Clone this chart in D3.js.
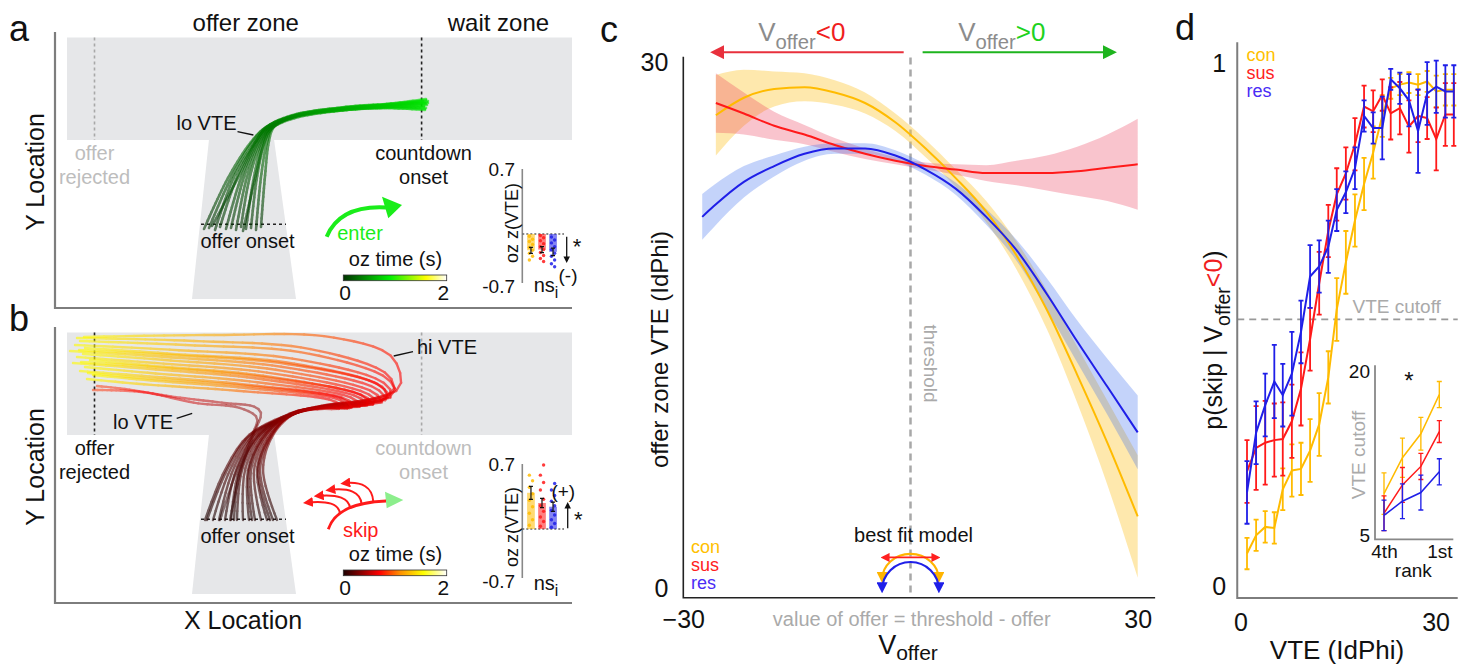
<!DOCTYPE html>
<html>
<head>
<meta charset="utf-8">
<title>offer zone VTE</title>
<script src="https://cdn.jsdelivr.net/npm/d3@7/dist/d3.min.js"></script>
<style>
  body { margin: 0; background: #fff; }
  text { font-family: "Liberation Sans", Arial, Helvetica, sans-serif; }
</style>
</head>
<body>
<svg id="fig" width="1470" height="667"></svg>
<script>
// ---------------- data ----------------
const groups = ['con', 'sus', 'res'];

// panels a/b: example trajectories in maze units [X, Y]
const enterPaths = [
  [[149,79],[173,130],[196,166],[210,180],[236,191],[289,199],[330,203],[370,205]],
  [[154,80],[176,130],[198,167],[211,181],[237,192],[290,200],[331,203],[371,208]],
  [[160,78],[179,131],[200,166],[212,180],[237,191],[290,199],[330,201],[369,201]],
  [[165,81],[182,131],[201,167],[212,181],[238,192],[291,200],[332,203],[372,206]],
  [[171,79],[186,130],[203,167],[213,180],[238,191],[289,198],[331,200],[370,199]],
  [[176,80],[189,131],[204,167],[214,181],[239,192],[290,199],[332,202],[371,204]],
  [[181,78],[192,131],[205,166],[215,180],[239,191],[291,200],[333,203],[373,207]],
  [[186,81],[195,132],[207,167],[216,181],[240,193],[292,201],[332,204],[371,209]],
  [[191,79],[199,131],[208,167],[216,181],[240,192],[291,199],[331,201],[369,202]],
  [[196,80],[202,131],[210,167],[217,180],[241,192],[292,200],[333,202],[372,203]],
  [[201,78],[206,131],[212,166],[218,181],[241,191],[291,198],[332,200],[370,198]],
  [[206,81],[210,132],[214,167],[219,181],[242,192],[293,200],[334,203],[373,205]],
  [[157,82],[184,132],[202,168],[213,182],[238,193],[290,201],[331,204],[368,207]],
  [[188,77],[200,129],[209,165],[216,179],[240,190],[292,198],[333,201],[371,200]]
];
const skipPaths = [
  [[152,83],[172,133],[195,168],[236,188],[272,197],[320,205],[345,216],[337,246],[275,266],[160,268],[29,266]],
  [[158,83],[175,133],[197,168],[236,189],[270,197],[318,203],[340,210],[333,224],[250,250],[130,258],[25,262]],
  [[164,83],[178,133],[199,168],[237,189],[271,198],[316,202],[337,207],[329,220],[240,244],[120,253],[20,258]],
  [[170,83],[181,133],[201,168],[235,188],[270,197],[314,201],[334,205],[326,217],[235,240],[120,249],[30,255]],
  [[176,83],[184,133],[203,168],[236,190],[269,196],[312,200],[331,203],[322,214],[228,236],[110,246],[15,252]],
  [[182,83],[187,133],[205,168],[237,189],[270,196],[310,199],[327,201],[318,211],[222,233],[110,243],[28,249]],
  [[188,83],[190,133],[207,168],[236,188],[269,197],[306,198],[322,200],[313,209],[215,230],[100,240],[22,246]],
  [[194,83],[193,133],[209,168],[237,190],[270,196],[304,197],[318,199],[309,207],[210,227],[100,237],[35,243]],
  [[200,83],[196,133],[211,168],[236,189],[269,196],[300,197],[312,198],[303,206],[205,224],[95,234],[18,240]],
  [[206,83],[199,133],[213,168],[237,188],[268,196],[296,196],[306,197],[297,205],[200,221],[95,230],[30,236]],
  [[212,83],[202,133],[215,168],[238,189],[268,195],[291,195],[300,196],[291,204],[195,218],[90,227],[25,232]],
  [[218,83],[205,133],[217,168],[238,190],[267,195],[286,195],[294,195],[285,203],[190,215],[90,223],[38,228]],
  [[222,83],[208,133],[218,168],[239,189],[266,194],[282,194],[288,195],[279,202],[185,212],[85,219],[32,224]],
  [[150,83],[170,133],[194,168],[235,189],[271,198],[317,204],[339,212],[333,228],[255,254],[140,262],[22,265]],
  [[179,83],[185,133],[204,168],[236,188],[270,197],[313,200],[333,206],[324,218],[232,239],[115,248],[24,253]],
  [[197,83],[194,133],[210,168],[237,189],[269,196],[302,197],[315,199],[306,208],[208,226],[98,236],[26,241]],
  [[215,83],[203,133],[216,168],[238,189],[267,195],[289,195],[297,196],[288,204],[192,217],[88,225],[33,230]]
];
const loSkipPaths = [
  [[165,83],[182,133],[197,168],[202,185],[185,195],[141,200],[87,211],[38,213]],
  [[175,83],[186,133],[199,170],[206,190],[200,196],[170,200],[120,206],[70,214],[42,217]]
];

// inset bars: oz z(VTE) per group
const enterZ = [-0.22, -0.21, -0.24];
const enterZErr = [0.04, 0.04, 0.05];
const enterDots = {
  con: [-0.03,-0.07,-0.1,-0.14,-0.18,-0.22,-0.26,-0.3,-0.35],
  sus: [-0.02,-0.05,-0.09,-0.13,-0.17,-0.21,-0.25,-0.29,-0.33,-0.37],
  res: [-0.04,-0.08,-0.12,-0.17,-0.21,-0.26,-0.3,-0.35,-0.4,-0.44]
};
const skipZ = [0.39, 0.28, 0.24];
const skipZErr = [0.07, 0.05, 0.05];
const skipDots = {
  con: [0.04,0.1,0.17,0.24,0.31,0.38,0.45,0.52,0.58],
  sus: [0.03,0.08,0.13,0.19,0.25,0.32,0.42,0.5,0.58,0.69],
  res: [0.02,0.06,0.1,0.15,0.2,0.25,0.3,0.36,0.42,0.49]
};

// panel c: fitted VTE vs V_offer with confidence band half widths
const vCon = [-25.7,-22,-18,-14,-10,-6,-2,2,6,10,14,18,22,26,30];
const vteCon = [27.0,28.0,28.5,28.6,28.3,27.7,26.6,25.1,23.4,21.5,19.0,15.9,12.2,8.3,4.1];
const ciCon = [2.3,1.6,1.0,0.8,0.7,0.6,0.5,0.5,0.5,0.6,0.8,1.1,1.6,2.4,3.5];
const vSus = [-25.7,-22,-18,-14,-10,-6,-2,2,6,10,14,18,22,26,30];
const vteSus = [27.7,27.1,26.4,25.9,25.3,24.8,24.4,24.1,23.9,23.7,23.7,23.7,23.8,24.0,24.2];
const ciSus = [1.7,1.2,0.8,0.55,0.4,0.3,0.2,0.2,0.3,0.45,0.7,1.0,1.4,1.9,2.6];
const vRes = [-27.5,-26,-22,-18,-14,-10,-6,-2,2,6,10,14,18,22,26,30];
const vteRes = [21.2,21.8,23.2,24.1,24.8,25.1,25.1,24.7,23.9,22.8,21.2,19.3,16.8,14.1,11.5,8.9];
const ciRes = [1.3,1.2,0.9,0.6,0.4,0.3,0.3,0.3,0.3,0.35,0.45,0.6,0.9,1.2,1.6,2.1];

// panel d: p(skip | V_offer<0) by VTE bin
const vteBins = [1.0,2.4,3.8,5.2,6.5,7.9,9.3,10.7,12.1,13.5,14.8,16.2,17.6,19.0,20.4,21.8,23.1,24.5,25.9,27.3,28.7,30.1,31.5,32.8];
const pSkipCon = [0.063,0.098,0.114,0.112,0.186,0.222,0.225,0.26,0.31,0.40,0.53,0.62,0.70,0.77,0.83,0.90,0.953,0.96,0.964,0.96,0.966,0.947,0.95,0.95];
const errCon = [0.03,0.03,0.03,0.03,0.04,0.05,0.05,0.06,0.06,0.05,0.06,0.06,0.05,0.05,0.05,0.04,0.02,0.02,0.02,0.02,0.02,0.03,0.03,0.03];
const pSkipSus = [0.22,0.265,0.275,0.28,0.282,0.316,0.378,0.473,0.58,0.68,0.75,0.79,0.846,0.918,0.909,0.94,0.905,0.915,0.88,0.90,0.896,0.856,0.903,0.903];
const errSus = [0.06,0.08,0.08,0.07,0.07,0.07,0.07,0.06,0.06,0.05,0.05,0.05,0.05,0.04,0.04,0.03,0.05,0.05,0.05,0.05,0.04,0.06,0.06,0.06];
const pSkipRes = [0.18,0.294,0.347,0.392,0.366,0.407,0.487,0.593,0.612,0.65,0.72,0.754,0.80,0.90,0.877,0.877,0.97,0.953,0.93,0.871,0.943,0.956,0.947,0.947];
const errRes = [0.06,0.06,0.06,0.07,0.06,0.08,0.06,0.06,0.05,0.05,0.04,0.04,0.04,0.03,0.03,0.06,0.02,0.03,0.05,0.08,0.06,0.05,0.05,0.05];
const vteCutoff = 0.511;

// panel d inset: VTE cutoff by rank
const ranks = [4, 3, 2, 1];
const rankLabels = {4: '4th', 3: '', 2: '', 1: '1st'};
const cutCon = [8.8, 12.1, 14.3, 17.9];
const cutConErr = [1.9, 1.8, 1.5, 1.2];
const cutSus = [7.0, 9.6, 11.3, 14.5];
const cutSusErr = [1.6, 1.6, 1.2, 1.0];
const cutRes = [6.8, 8.1, 8.9, 10.8];
const cutResErr = [1.4, 1.6, 1.6, 1.2];

// ---------------- setup ----------------
const svg = d3.select('#fig');
const defs = svg.append('defs');
const lineColor = {con: '#ffbb00', sus: '#ff1a1a', res: '#1f1fe8'};
const legendColor = {con: '#ffc000', sus: '#ff2020', res: '#4a2cf5'};
const FONT = '"Liberation Sans", Arial, Helvetica, sans-serif';

function marker(id, color, size) {
  defs.append('marker').attr('id', id).attr('viewBox', '0 0 10 10')
    .attr('refX', 7).attr('refY', 5).attr('markerWidth', size).attr('markerHeight', size)
    .attr('orient', 'auto-start-reverse')
    .append('path').attr('d', 'M0,0L10,5L0,10z').attr('fill', color);
}
marker('hRed', '#e8303c', 7);
marker('hGreen', '#1eb41e', 7);
marker('hR', '#ff2020', 5);
marker('hY', '#ffb400', 5);
marker('hB', '#1f1fe8', 5);
marker('hK', '#111', 5);
marker('hSkip', '#ff1a1a', 5);

function label(g, x, y, str, size, color, anchor, rotate) {
  const t = g.append('text').attr('font-size', size).attr('fill', color || '#111')
    .attr('text-anchor', anchor || 'middle').attr('dominant-baseline', 'central');
  if (rotate) t.attr('transform', `translate(${x},${y}) rotate(${rotate})`);
  else t.attr('x', x).attr('y', y);
  t.text(str);
  return t;
}

function richLabel(g, x, y, parts, size, anchor, rotate, subShift) {
  const shift = subShift || 0.3;
  const t = g.append('text').attr('font-size', size).attr('text-anchor', anchor || 'middle');
  if (rotate) t.attr('transform', `translate(${x},${y}) rotate(${rotate})`);
  else t.attr('x', x).attr('y', y);
  let shifted = false;
  parts.forEach(p => {
    const s = t.append('tspan').text(p.t).attr('fill', p.c || '#111');
    if (p.sub) { s.attr('font-size', size * 0.78).attr('dy', size * shift); shifted = true; }
    else if (shifted) { s.attr('dy', -size * shift); shifted = false; }
  });
  return t;
}

function gradient(id, cmap, stops) {
  const lg = defs.append('linearGradient').attr('id', id);
  stops.forEach(v => lg.append('stop').attr('offset', (v / 2 * 100) + '%').attr('stop-color', cmap(v)));
}

// colour along the path = time in the offer zone
function drawTrajectories(g, paths, x, y, cmap, tmax, alpha, width) {
  const line = d3.line().x(d => x(d[0])).y(d => y(d[1])).curve(d3.curveCatmullRom.alpha(0.5));
  paths.forEach(p => {
    const tg = g.append('g').attr('opacity', alpha);
    const guide = tg.append('path').attr('d', line(p)).attr('fill', 'none');
    const node = guide.node(), L = node.getTotalLength(), n = 60;
    let a = node.getPointAtLength(0);
    for (let i = 1; i <= n; i++) {
      const b = node.getPointAtLength(L * i / n);
      tg.append('line').attr('x1', a.x).attr('y1', a.y).attr('x2', b.x).attr('y2', b.y)
        .attr('stroke', cmap(tmax * (i - 0.5) / n)).attr('stroke-width', width)
        .attr('stroke-linecap', 'round');
      a = b;
    }
    guide.remove();
  });
}

// ---------------- panels a / b ----------------
const enterCmap = d3.scaleLinear().domain([0, 0.9, 1.6, 2]).range(['#003300', '#00f000', '#ffff00', '#ffffff']);
const skipCmap = d3.scaleLinear().domain([0, 0.3, 0.7, 1.1, 1.55, 2])
  .range(['#1c0000', '#7a0000', '#ff0000', '#ff9000', '#ffff00', '#ffffff']);
gradient('gEnter', enterCmap, [0, 0.45, 0.9, 1.25, 1.6, 2]);
gradient('gSkip', skipCmap, [0, 0.3, 0.7, 0.9, 1.1, 1.55, 2]);

function mazePanel(cfg) {
  const g = svg.append('g');
  const x = d3.scaleLinear().domain([0, 517]).range([55, 572]);
  const y = d3.scaleLinear().domain([0, 276]).range([cfg.base, cfg.base - 276]);
  const P = d => [x(d[0]), y(d[1])];
  const floor = '#e6e7e9';

  g.append('rect').attr('x', x(12)).attr('y', y(270.5)).attr('width', x(517) - x(12))
    .attr('height', y(168) - y(270.5)).attr('fill', floor);
  g.append('path').attr('d', d3.line()([[154, 168.5], [219, 168.5], [241, 9], [137, 9]].map(P)) + 'Z')
    .attr('fill', floor);
  g.append('path').attr('d', d3.line()([[0, 276], [0, 0], [517, 0]].map(P)))
    .attr('fill', 'none').attr('stroke', '#7d7d7d').attr('stroke-width', 2.2);

  // zone markers
  const dashed = (a, b, color) => g.append('line')
    .attr('x1', x(a[0])).attr('y1', y(a[1])).attr('x2', x(b[0])).attr('y2', y(b[1]))
    .attr('stroke', color).attr('stroke-width', 1.6).attr('stroke-dasharray', '3,3');
  dashed([39.5, 270.5], [39.5, 168], cfg.rejectColor);
  dashed([366.6, 270.5], [366.6, 168], cfg.countColor);
  dashed([146, 83.7], [231, 83.7], '#222');

  cfg.draw(g, x, y, P);

  // zone labels
  label(g, x(39.5), y(154.7), 'offer', 20, cfg.rejectText);
  label(g, x(39.5), y(131), 'rejected', 20, cfg.rejectText);
  label(g, x(368.5), y(154.7), 'countdown', 20, cfg.countText);
  label(g, x(368.5), y(131), 'onset', 20, cfg.countText);
  label(g, x(192.5), y(67.5), 'offer onset', 20, '#111');

  // colour bar
  label(g, x(340.5), y(49.5), 'oz time (s)', 20, '#111');
  g.append('rect').attr('x', x(288.3)).attr('y', y(33)).attr('width', x(391.7) - x(288.3))
    .attr('height', y(27.3) - y(33)).attr('fill', `url(#${cfg.grad})`)
    .attr('stroke', '#333').attr('stroke-width', 0.8);
  label(g, x(290), y(15.5), '0', 21, '#111');
  label(g, x(388.3), y(15.5), '2', 21, '#111');

  // inset bar chart
  const iy = d3.scaleLinear().domain([-0.7, 0, 0.7]).range([y(22), y(74), y(139)]);
  const ix = d3.scaleBand().domain(groups).range([x(471), x(503)]).paddingInner(0.3).paddingOuter(0.1);
  g.append('line').attr('x1', x(467.3)).attr('x2', x(467.3)).attr('y1', y(25)).attr('y2', y(139))
    .attr('stroke', '#888').attr('stroke-width', 1.6);
  g.append('line').attr('x1', x(467.3)).attr('x2', x(509)).attr('y1', iy(0)).attr('y2', iy(0))
    .attr('stroke', '#666').attr('stroke-width', 1.3).attr('stroke-dasharray', '2,2');
  groups.forEach((k, i) => {
    const v = cfg.z[i], c = ix(k) + ix.bandwidth() / 2;
    g.append('rect').attr('x', ix(k)).attr('width', ix.bandwidth())
      .attr('y', Math.min(iy(0), iy(v))).attr('height', Math.abs(iy(v) - iy(0)))
      .attr('fill', lineColor[k]).attr('fill-opacity', 0.55);
    g.selectAll(null).data(cfg.dots[k]).join('circle')
      .attr('cx', (d, j) => c + (j % 2 ? 1.6 : -1.6)).attr('cy', d => iy(d)).attr('r', 1.7)
      .attr('fill', lineColor[k]).attr('fill-opacity', 0.85);
    const e = cfg.zErr[i];
    g.append('path').attr('d', `M${c},${iy(v - e)}V${iy(v + e)}M${c - 2},${iy(v - e)}H${c + 2}M${c - 2},${iy(v + e)}H${c + 2}`)
      .attr('stroke', '#111').attr('stroke-width', 1.2).attr('fill', 'none');
  });
  label(g, x(460), iy(0.7), '0.7', 19, '#111', 'end');
  label(g, x(460), iy(-0.7), '-0.7', 19, '#111', 'end');
  label(g, x(456.5), y(cfg.ozY), 'oz z(VTE)', 18, '#111', 'middle', -90);
  richLabel(g, x(491), y(cfg.nsY) + 6, [{t: 'ns'}, {t: 'i', sub: true}], 20);
  return {g, x, y, P, iy};
}

// panel a: entering
const pa = mazePanel({
  base: 308, rejectColor: '#a8a8a8', countColor: '#222', rejectText: '#bdbdbd', countText: '#111',
  grad: 'gEnter', z: enterZ, zErr: enterZErr, dots: enterDots, ozY: 85, nsY: 22,
  draw: (g, x, y, P) => {
    drawTrajectories(g, enterPaths, x, y, enterCmap, 0.85, 0.6, 2.6);
    label(g, x(151.5), y(184.7), 'lo VTE', 20, '#111');
    g.append('line').attr('x1', x(182.5)).attr('y1', y(176.3)).attr('x2', x(198.4)).attr('y2', y(173))
      .attr('stroke', '#111').attr('stroke-width', 1.3);
    // enter arrow
    const path = d3.path();
    path.moveTo(...P([271.7, 71.3]));
    path.quadraticCurveTo(...P([285, 103]), ...P([331, 100.5]));
    g.append('path').attr('d', path.toString()).attr('fill', 'none').attr('stroke', '#1aed1a').attr('stroke-width', 4);
    g.append('path').attr('d', d3.line()([[347, 103], [327, 111.3], [333.3, 89.7]].map(P)) + 'Z').attr('fill', '#1aed1a');
    label(g, x(305), y(74.7), 'enter', 20, '#1aed1a');
  }
});
label(pa.g, pa.x(-36), pa.y(280), 'a', 36, '#111');
label(pa.g, pa.x(190.7), 22.7, 'offer zone', 24, '#111');
label(pa.g, pa.x(443.4), 22.7, 'wait zone', 24, '#111');
label(pa.g, pa.x(-20), pa.y(136), 'Y Location', 25, '#111', 'middle', -90);
pa.g.append('line').attr('x1', pa.x(511.7)).attr('x2', pa.x(511.7)).attr('y1', pa.y(71.3)).attr('y2', pa.y(47))
  .attr('stroke', '#111').attr('stroke-width', 1.3).attr('marker-end', 'url(#hK)');
label(pa.g, pa.x(522), pa.y(61.3), '*', 22, '#111');
label(pa.g, pa.x(513), pa.y(33), '(-)', 19, '#111');

// panel b: skipping
const pb = mazePanel({
  base: 603, rejectColor: '#222', countColor: '#a8a8a8', rejectText: '#111', countText: '#bdbdbd',
  grad: 'gSkip', z: skipZ, zErr: skipZErr, dots: skipDots, ozY: 76, nsY: 19,
  draw: (g, x, y, P) => {
    drawTrajectories(g, loSkipPaths, x, y, skipCmap, 0.85, 0.5, 2.4);
    drawTrajectories(g, skipPaths, x, y, skipCmap, 1.55, 0.6, 2.4);
    label(g, x(88), y(181.3), 'lo VTE', 20, '#111');
    g.append('line').attr('x1', x(121.7)).attr('y1', y(184.7)).attr('x2', x(137.2)).attr('y2', y(189.7))
      .attr('stroke', '#111').attr('stroke-width', 1.3);
    label(g, x(392), y(256.3), 'hi VTE', 20, '#111');
    g.append('line').attr('x1', x(338.7)).attr('y1', y(247)).attr('x2', x(358)).attr('y2', y(251.3))
      .attr('stroke', '#111').attr('stroke-width', 1.3);
    // skip icon: forward path with looping back arrows
    g.append('path').attr('d', d3.line()([[331, 102], [340, 102.6]].map(P)))
      .attr('stroke', '#8cee8c').attr('stroke-width', 4);
    g.append('path').attr('d', d3.line()([[348.3, 103], [330, 111.3], [331.7, 94.7]].map(P)) + 'Z').attr('fill', '#8cee8c');
    const main = d3.path();
    main.moveTo(...P([273.3, 73.7]));
    main.quadraticCurveTo(...P([281.7, 100]), ...P([331, 102]));
    g.append('path').attr('d', main.toString()).attr('fill', 'none').attr('stroke', '#ff1a1a').attr('stroke-width', 2.8);
    [[[285, 89], [284, 104], [251, 100.3]], [[295, 94.7], [294, 110], [261.7, 107]],
     [[306.7, 98.7], [305, 117], [273.3, 113]], [[318.3, 101.3], [317, 123], [288.3, 119.7]]].forEach(a => {
      const p = d3.path();
      p.moveTo(...P(a[0]));
      p.quadraticCurveTo(...P(a[1]), ...P(a[2]));
      g.append('path').attr('d', p.toString()).attr('fill', 'none').attr('stroke', '#ff1a1a')
        .attr('stroke-width', 2).attr('marker-end', 'url(#hSkip)');
    });
    label(g, x(305.7), y(73), 'skip', 20, '#ff1a1a');
  }
});
label(pb.g, pb.x(-36), pb.y(285), 'b', 36, '#111');
label(pb.g, pb.x(-20), pb.y(136), 'Y Location', 25, '#111', 'middle', -90);
label(pb.g, pb.x(188), pb.y(-17), 'X Location', 25, '#111');
pb.g.append('line').attr('x1', pb.x(512.7)).attr('x2', pb.x(512.7)).attr('y1', pb.y(74.7)).attr('y2', pb.y(99))
  .attr('stroke', '#111').attr('stroke-width', 1.3).attr('marker-end', 'url(#hK)');
label(pb.g, pb.x(523.3), pb.y(83.7), '*', 22, '#111');
label(pb.g, pb.x(508.3), pb.y(111.3), '(+)', 19, '#111');

// ---------------- panel c ----------------
const gc = svg.append('g');
const cx = d3.scaleLinear().domain([-30, 30]).range([683.3, 1137.7]);
const cy = d3.scaleLinear().domain([0, 30]).range([588.3, 62.7]);
const cSeries = [
  {k: 'con', v: vCon, m: vteCon, ci: ciCon},
  {k: 'sus', v: vSus, m: vteSus, ci: ciSus},
  {k: 'res', v: vRes, m: vteRes, ci: ciRes}
];
const bandFill = {con: 'rgba(252,200,60,0.42)', sus: 'rgba(235,60,90,0.3)', res: 'rgba(60,110,240,0.3)'};

gc.append('line').attr('x1', cx(0)).attr('x2', cx(0)).attr('y1', cy(30.3)).attr('y2', cy(-0.5))
  .attr('stroke', '#a8a8a8').attr('stroke-width', 2.5).attr('stroke-dasharray', '7,5');

cSeries.forEach(s => {
  const rows = s.v.map((v, i) => ({v, m: s.m[i], ci: s.ci[i]}));
  gc.append('path').datum(rows)
    .attr('d', d3.area().x(d => cx(d.v)).y0(d => cy(d.m - d.ci)).y1(d => cy(d.m + d.ci)).curve(d3.curveMonotoneX))
    .attr('fill', bandFill[s.k]);
});
cSeries.forEach(s => {
  const rows = s.v.map((v, i) => ({v, m: s.m[i]}));
  gc.append('path').datum(rows)
    .attr('d', d3.line().x(d => cx(d.v)).y(d => cy(d.m)).curve(d3.curveMonotoneX))
    .attr('fill', 'none').attr('stroke', lineColor[s.k]).attr('stroke-width', 2);
});

gc.append('path').attr('d', `M${cx(-30)},${cy(30.34)}V${cy(-0.54)}H${cx(32.3)}`)
  .attr('fill', 'none').attr('stroke', '#222').attr('stroke-width', 1.6);
gc.append('g').attr('transform', `translate(${cx(-30)},0)`)
  .call(d3.axisLeft(cy).tickValues([0, 30]).tickSize(0).tickPadding(15))
  .call(a => a.select('.domain').remove())
  .attr('font-family', FONT).attr('font-size', 25)
  .selectAll('text').attr('fill', '#111');
gc.append('g').attr('transform', `translate(0,${cy(-0.54)})`)
  .call(d3.axisBottom(cx).tickValues([-30, 30]).tickSize(0).tickPadding(12))
  .call(a => a.select('.domain').remove())
  .attr('font-family', FONT).attr('font-size', 25)
  .selectAll('text').attr('fill', '#111');

label(gc, 609, 29, 'c', 36, '#111');
label(gc, 659, 349.5, 'offer zone VTE (IdPhi)', 24, '#111', 'middle', -90);
label(gc, 930.4, 363.5, 'threshold', 19, '#aaa', 'middle', 90);
label(gc, 911.7, 619, 'value of offer = threshold - offer', 20, '#aaa');
richLabel(gc, 908, 654, [{t: 'V'}, {t: 'offer', sub: true}], 27, 'middle', 0, 0.22);

// direction arrows above the plot
gc.append('line').attr('x1', cx(-0.9)).attr('x2', cx(-25.9)).attr('y1', cy(30.6)).attr('y2', cy(30.6))
  .attr('stroke', '#e8303c').attr('stroke-width', 2).attr('marker-end', 'url(#hRed)');
gc.append('line').attr('x1', cx(1.6)).attr('x2', cx(26.7)).attr('y1', cy(30.6)).attr('y2', cy(30.6))
  .attr('stroke', '#1eb41e').attr('stroke-width', 2).attr('marker-end', 'url(#hGreen)');
richLabel(gc, 801.8, 41, [{t: 'V', c: '#8c8c8c'}, {t: 'offer', sub: true, c: '#8c8c8c'}, {t: '<0', c: '#f01e1e'}], 26);
richLabel(gc, 1001.8, 41, [{t: 'V', c: '#8c8c8c'}, {t: 'offer', sub: true, c: '#8c8c8c'}, {t: '>0', c: '#1ed21e'}], 26);

// legend
groups.forEach((k, i) => label(gc, 691, 546.5 + i * 18, k, 18, legendColor[k], 'start'));

// best fit model icon
label(gc, cx(0.4), 535, 'best fit model', 20, '#111');
const arcPath = (x0, x1, yEnd, yTop) => {
  const rx = (cx(x1) - cx(x0)) / 2, ry = cy(yEnd) - cy(yTop);
  return `M${cx(x0)},${cy(yEnd)}A${rx},${ry} 0 0 1 ${cx(x1)},${cy(yEnd)}`;
};
gc.append('path').attr('d', arcPath(-3.75, 3.75, 0.49, 1.96)).attr('fill', 'none')
  .attr('stroke', '#ffb400').attr('stroke-width', 2.2).attr('marker-start', 'url(#hY)').attr('marker-end', 'url(#hY)');
gc.append('path').attr('d', arcPath(-3.75, 3.75, -0.1, 1.5)).attr('fill', 'none')
  .attr('stroke', '#1f1fe8').attr('stroke-width', 2.2).attr('marker-start', 'url(#hB)').attr('marker-end', 'url(#hB)');
gc.append('line').attr('x1', cx(-3.6)).attr('x2', cx(3.6)).attr('y1', cy(1.76)).attr('y2', cy(1.76))
  .attr('stroke', '#ff2020').attr('stroke-width', 1.8).attr('marker-start', 'url(#hR)').attr('marker-end', 'url(#hR)');

// ---------------- panel d ----------------
const gd = svg.append('g');
const dx = d3.scaleLinear().domain([0, 30]).range([1240.5, 1435.6]);
const dy = d3.scaleLinear().domain([0, 1]).range([586.5, 63.7]);

function errorSeries(g, xs, ys, xv, yv, ev, color, lw, cap) {
  const rows = xv.map((x, i) => ({x, y: yv[i], e: ev[i]}));
  g.append('path').datum(rows).attr('d', d3.line().x(d => xs(d.x)).y(d => ys(d.y)))
    .attr('fill', 'none').attr('stroke', color).attr('stroke-width', lw);
  g.append('g').attr('stroke', color).attr('stroke-width', lw * 0.9).attr('fill', 'none')
    .selectAll('path').data(rows).join('path')
    .attr('d', d => {
      const X = xs(d.x), y0 = ys(d.y - d.e), y1 = ys(d.y + d.e);
      return `M${X - cap},${y0}H${X + cap}M${X},${y0}V${y1}M${X - cap},${y1}H${X + cap}`;
    });
}

gd.append('line').attr('x1', dx(-0.5)).attr('x2', dx(33.4)).attr('y1', dy(vteCutoff)).attr('y2', dy(vteCutoff))
  .attr('stroke', '#999').attr('stroke-width', 1.8).attr('stroke-dasharray', '7,5');
label(gd, 1396.7, 306, 'VTE cutoff', 19, '#aaa');

errorSeries(gd, dx, dy, vteBins, pSkipCon, errCon, lineColor.con, 2, 2.5);
errorSeries(gd, dx, dy, vteBins, pSkipSus, errSus, lineColor.sus, 2, 2.5);
errorSeries(gd, dx, dy, vteBins, pSkipRes, errRes, lineColor.res, 2, 2.5);

gd.append('path').attr('d', `M${dx(-0.5)},${dy(1.041)}V${dy(-0.022)}H${dx(33.4)}`)
  .attr('fill', 'none').attr('stroke', '#7d7d7d').attr('stroke-width', 2);
gd.append('g').attr('transform', `translate(${dx(-0.5)},0)`)
  .call(d3.axisLeft(dy).tickValues([0, 1]).tickFormat(d3.format('d')).tickSize(0).tickPadding(11))
  .call(a => a.select('.domain').remove())
  .attr('font-family', FONT).attr('font-size', 25)
  .selectAll('text').attr('fill', '#111');
gd.append('g').attr('transform', `translate(0,${dy(-0.022)})`)
  .call(d3.axisBottom(dx).tickValues([0, 30]).tickSize(0).tickPadding(15))
  .call(a => a.select('.domain').remove())
  .attr('font-family', FONT).attr('font-size', 25)
  .selectAll('text').attr('fill', '#111');

label(gd, 1185, 27, 'd', 36, '#111');
groups.forEach((k, i) => label(gd, 1246.5, 55 + i * 18, k, 18, legendColor[k], 'start'));
richLabel(gd, 1222, 340, [{t: 'p(skip | V'}, {t: 'offer', sub: true}, {t: '<0', c: '#f01e1e'}, {t: ')'}], 25, 'middle', -90);
label(gd, 1337, 650, 'VTE (IdPhi)', 26, '#111');

// inset: VTE cutoff by rank
const rx = d3.scalePoint().domain(ranks).range([1384, 1439.3]);
const ry = d3.scaleLinear().domain([5, 20]).range([535, 371.7]);
errorSeries(gd, rx, ry, ranks, cutCon, cutConErr, lineColor.con, 1.5, 2.5);
errorSeries(gd, rx, ry, ranks, cutSus, cutSusErr, lineColor.sus, 1.5, 2.5);
errorSeries(gd, rx, ry, ranks, cutRes, cutResErr, lineColor.res, 1.5, 2.5);
gd.append('path').attr('d', `M${rx(4) - 9},${ry(20.6)}V${ry(4.6)}H${rx(1) + 14}`)
  .attr('fill', 'none').attr('stroke', '#888').attr('stroke-width', 1.8);
gd.append('g').attr('transform', `translate(${rx(4) - 9},0)`)
  .call(d3.axisLeft(ry).tickValues([5, 20]).tickSize(0).tickPadding(5))
  .call(a => a.select('.domain').remove())
  .attr('font-family', FONT).attr('font-size', 19)
  .selectAll('text').attr('fill', '#111');
gd.append('g').attr('transform', `translate(0,${ry(4.6)})`)
  .call(d3.axisBottom(rx).tickValues([4, 1]).tickFormat(r => rankLabels[r]).tickSize(0).tickPadding(5))
  .call(a => a.select('.domain').remove())
  .attr('font-family', FONT).attr('font-size', 19)
  .selectAll('text').attr('fill', '#111');
label(gd, 1413.3, 570, 'rank', 19, '#111');
label(gd, 1358.3, 455, 'VTE cutoff', 19, '#aaa', 'middle', -90);
label(gd, 1409, 380, '*', 24, '#111');
</script>
</body>
</html>
